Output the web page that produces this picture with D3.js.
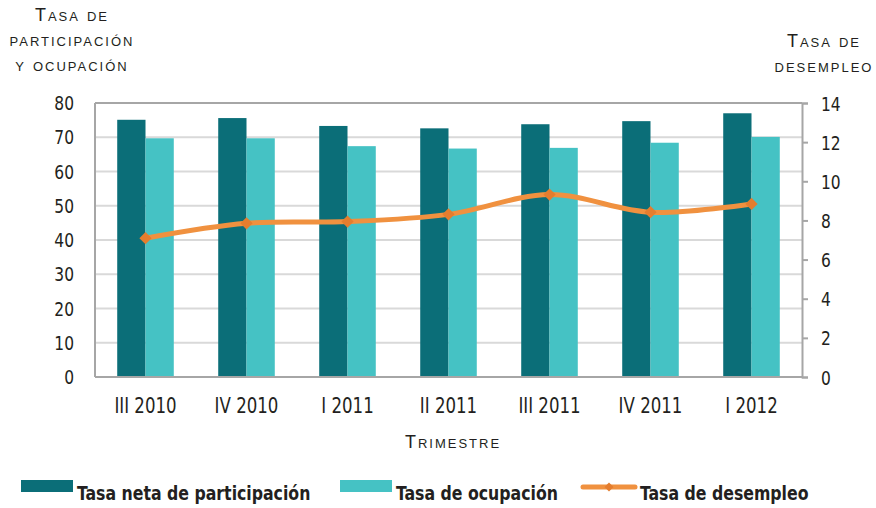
<!DOCTYPE html>
<html>
<head>
<meta charset="utf-8">
<script src="https://cdn.jsdelivr.net/npm/d3@7"></script>
<style>
  body { margin: 0; background: #fff; }
  svg { display: block; }
  text { fill: #231f20; font-family: "Liberation Sans Narrow", "DejaVu Sans Condensed", sans-serif; }
</style>
</head>
<body>
<svg id="canvas" width="876" height="508"></svg>
<script>
// quarters on the x axis
let trimestres = ['III 2010', 'IV 2010', 'I 2011', 'II 2011', 'III 2011', 'IV 2011', 'I 2012'];
// left axis series (bars)
let participacion = [75.1, 75.6, 73.3, 72.6, 73.8, 74.7, 77.0];
let ocupacion = [69.7, 69.7, 67.4, 66.7, 66.9, 68.4, 70.1];
// right axis series (line)
let desempleo = [7.09, 7.85, 7.94, 8.31, 9.32, 8.42, 8.84];

let leftTicks = [0, 10, 20, 30, 40, 50, 60, 70, 80];
let rightTicks = [0, 2, 4, 6, 8, 10, 12, 14];

let colors = {participacion: '#0b6e78', ocupacion: '#45c2c4', desempleo: '#f0913f', marker: '#e47d2e'};

let canvas = d3.select('#canvas');

let plotLeft = 95, plotRight = 802, plotTop = 103, plotBottom = 377;
//horizontal squeeze so the condensed fallback looks like the narrow original type
let squeeze = 0.86;

let x0 = d3.scaleBand()
            .domain(trimestres)
            .range([plotLeft, plotRight])
            .paddingInner(0.44)
            .paddingOuter(0.22);
let x1 = d3.scaleBand()
            .domain(['participacion', 'ocupacion'])
            .range([0, x0.bandwidth()]);
let yLeft = d3.scaleLinear().domain([0, 80]).range([plotBottom, plotTop]);
let yRight = d3.scaleLinear().domain([0, 14]).range([plotBottom, plotTop]);

//gridlines
canvas.append('g')
        .selectAll('line')
        .data(leftTicks.slice(1, -1))
        .enter()
        .append('line')
        .attr('x1', plotLeft)
        .attr('x2', plotRight)
        .attr('y1', (d) => yLeft(d))
        .attr('y2', (d) => yLeft(d))
        .attr('stroke', '#d9d9d9')
        .attr('stroke-width', 2);

//bars
let rows = trimestres.map((t, i) => {
    return {t: t, participacion: participacion[i], ocupacion: ocupacion[i]};
});
canvas.append('g')
        .selectAll('g')
        .data(rows)
        .enter()
        .append('g')
        .attr('transform', (d) => 'translate(' + x0(d.t) + ',0)')
        .selectAll('rect')
        .data((d) => ['participacion', 'ocupacion'].map((k) => ({k: k, v: d[k]})))
        .enter()
        .append('rect')
        .attr('x', (d) => x1(d.k))
        .attr('width', x1.bandwidth())
        .attr('y', (d) => yLeft(d.v))
        .attr('height', (d) => plotBottom - yLeft(d.v))
        .attr('fill', (d) => colors[d.k]);

//frame lines
let frame = canvas.append('g').attr('stroke', '#a6a6a6').attr('stroke-width', 2);
frame.append('line').attr('x1', plotLeft).attr('x2', plotRight).attr('y1', plotTop).attr('y2', plotTop);
frame.append('line').attr('x1', plotLeft).attr('x2', plotLeft).attr('y1', plotTop).attr('y2', plotBottom);
frame.append('line').attr('x1', plotLeft).attr('x2', plotRight).attr('y1', plotBottom).attr('y2', plotBottom);

//left axis labels
canvas.append('g')
        .selectAll('text')
        .data(leftTicks)
        .enter()
        .append('text')
        .attr('transform', (d) => 'translate(74,' + (yLeft(d) + 7) + ') scale(' + squeeze + ',1)')
        .attr('text-anchor', 'end')
        .style('font-size', '20px')
        .text((d) => d);

//right axis
let rightAxis = canvas.append('g')
        .attr('transform', 'translate(' + plotRight + ',0)')
        .call(d3.axisRight(yRight).tickValues(rightTicks).tickSize(6).tickPadding(0));
rightAxis.select('.domain').attr('stroke', '#a6a6a6').attr('stroke-width', 2);
rightAxis.selectAll('.tick line').attr('stroke', '#a6a6a6').attr('stroke-width', 2);
rightAxis.selectAll('.tick text')
        .attr('x', null)
        .attr('transform', 'translate(19,0) scale(' + squeeze + ',1)')
        .attr('text-anchor', 'start')
        .attr('dy', '0.35em')
        .style('font-size', '20px')
        .style('font-family', '"Liberation Sans Narrow", "DejaVu Sans Condensed", sans-serif')
        .attr('fill', '#231f20');

//x labels
canvas.append('g')
        .selectAll('text')
        .data(trimestres)
        .enter()
        .append('text')
        .attr('transform', (d) => 'translate(' + (x0(d) + x0.bandwidth() / 2) + ',413) scale(0.84,1)')
        .attr('text-anchor', 'middle')
        .style('font-size', '22px')
        .text((d) => d);

//unemployment line
let points = trimestres.map((t, i) => ({t: t, v: desempleo[i]}));
let line = d3.line()
                .x((d) => x0(d.t) + x0.bandwidth() / 2)
                .y((d) => yRight(d.v))
                .curve(d3.curveCardinal.tension(0));
canvas.append('path')
        .datum(points)
        .attr('d', line)
        .attr('fill', 'none')
        .attr('stroke', colors.desempleo)
        .attr('stroke-width', 5);
canvas.append('g')
        .selectAll('path')
        .data(points)
        .enter()
        .append('path')
        .attr('d', d3.symbol(d3.symbolSquare).size(75))
        .attr('transform', (d) => 'translate(' + (x0(d.t) + x0.bandwidth() / 2) + ',' + yRight(d.v) + ') rotate(45)')
        .attr('fill', colors.marker);

//axis titles (small caps)
let titleStyle = (sel) => sel
        .attr('text-anchor', 'middle')
        .style('font-family', '"Liberation Sans", "DejaVu Sans", sans-serif')
        .style('font-variant', 'small-caps')
        .style('font-size', '18px')
        .style('letter-spacing', '2px');
let leftTitle = ['Tasa de', 'participación', 'y ocupación'];
canvas.append('g')
        .selectAll('text')
        .data(leftTitle)
        .enter()
        .append('text')
        .attr('x', 72)
        .attr('y', (d, i) => 21 + i * 25)
        .call(titleStyle)
        .text((d) => d);
let rightTitle = ['Tasa de', 'desempleo'];
canvas.append('g')
        .selectAll('text')
        .data(rightTitle)
        .enter()
        .append('text')
        .attr('x', 824)
        .attr('y', (d, i) => 47 + i * 25)
        .call(titleStyle)
        .text((d) => d);
canvas.append('text')
        .attr('x', 453)
        .attr('y', 448)
        .call(titleStyle)
        .text('Trimestre');

//legend
let legendItems = [
    {name: 'Tasa neta de participación', key: 'participacion', x: 21},
    {name: 'Tasa de ocupación', key: 'ocupacion', x: 340},
    {name: 'Tasa de desempleo', key: 'desempleo', x: 581}
];
let legend = canvas.append('g')
        .selectAll('g')
        .data(legendItems)
        .enter()
        .append('g')
        .attr('transform', (d) => 'translate(' + d.x + ',480)');
legend.filter((d) => d.key !== 'desempleo')
        .append('rect')
        .attr('width', 52)
        .attr('height', 12)
        .attr('fill', (d) => colors[d.key]);
let lineItem = legend.filter((d) => d.key === 'desempleo');
lineItem.append('line')
        .attr('x1', 2).attr('x2', 54).attr('y1', 7).attr('y2', 7)
        .attr('stroke', colors.desempleo)
        .attr('stroke-width', 5)
        .attr('stroke-linecap', 'round');
lineItem.append('path')
        .attr('d', d3.symbol(d3.symbolSquare).size(40))
        .attr('transform', 'translate(28,7) rotate(45)')
        .attr('fill', colors.marker);
legend.append('text')
        .attr('transform', (d) => 'translate(' + (d.key === 'desempleo' ? 59 : 56) + ',20) scale(0.875,1)')
        .style('font-size', '20px')
        .style('font-weight', 'bold')
        .text((d) => d.name);
</script>
</body>
</html>
